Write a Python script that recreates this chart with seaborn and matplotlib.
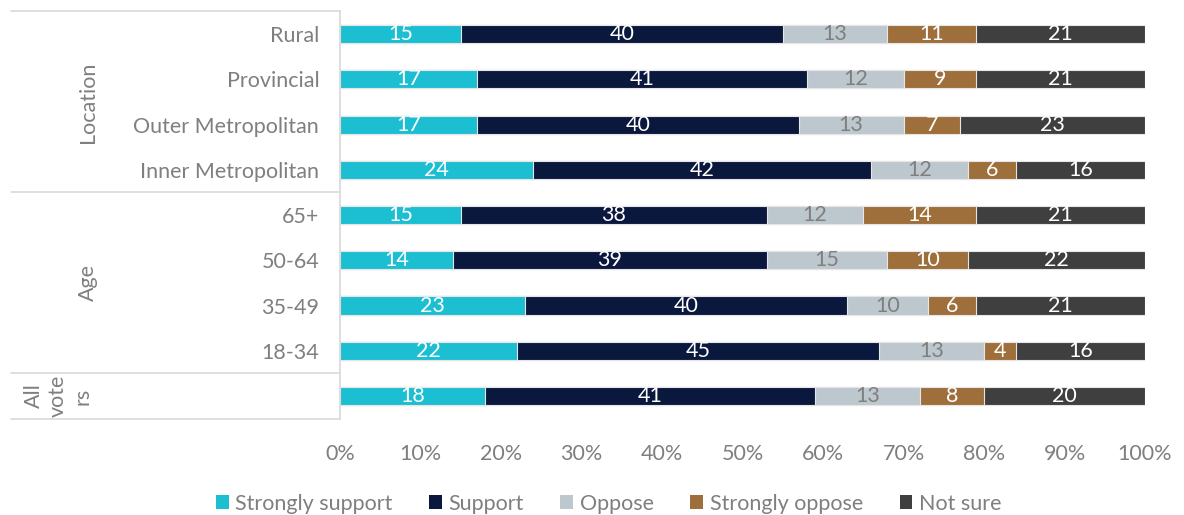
import numpy as np
import pandas as pd
import matplotlib
matplotlib.use('Agg')
import matplotlib.pyplot as plt
import matplotlib.transforms as mtransforms
from matplotlib.patches import Patch
import seaborn as sns

categories = ['Rural', 'Provincial', 'Outer Metropolitan', 'Inner Metropolitan',
              '65+', '50-64', '35-49', '18-34', 'All voters']
series = ['Strongly support', 'Support', 'Oppose', 'Strongly oppose', 'Not sure']
strongly_support = [15, 17, 17, 24, 15, 14, 23, 22, 18]
support = [40, 41, 40, 42, 38, 39, 40, 45, 41]
oppose = [13, 12, 13, 12, 12, 15, 10, 13, 13]
strongly_oppose = [11, 9, 7, 6, 14, 10, 6, 4, 8]
not_sure = [21, 21, 23, 16, 21, 22, 21, 16, 20]
groups = ['Location', 'Age', 'All\nvote\nrs']
group_sizes = [4, 4, 1]
x_ticks = [0, 10, 20, 30, 40, 50, 60, 70, 80, 90, 100]

colors = ['#1cbfd2', '#0b183d', '#bdc8ce', '#9e6f3a', '#3f3f3f']
text_colors = ['white', 'white', '#7f7f7f', 'white', 'white']
grey = '#7f7f7f'
fs = 15.5

sns.set_theme(style='white')
plt.rcParams['font.family'] = ['Lato', 'DejaVu Sans']

df = pd.DataFrame({'category': categories,
                   series[0]: strongly_support, series[1]: support,
                   series[2]: oppose, series[3]: strongly_oppose, series[4]: not_sure})
cum = df[series].cumsum(axis=1)

fig = plt.figure(figsize=(11.84, 5.15), dpi=100)
ax = fig.add_axes([0.2872, 0.1872, 0.6799, 0.7905])

# stacked bars: draw cumulative totals from the back forward
for k in range(len(series) - 1, -1, -1):
    sns.barplot(x=cum[series[k]], y=df['category'], color=colors[k], width=0.4,
                edgecolor='#e6e6e6', linewidth=0.8, orient='h', ax=ax, saturation=1)

for k, s in enumerate(series):
    for i in range(len(categories)):
        v = df[s].iloc[i]
        ax.text(cum[s].iloc[i] - v / 2, i, str(v), ha='center', va='center',
                color=text_colors[k], fontsize=fs)

ax.set_xlim(0, 100)
ax.set_ylim(len(categories) - 0.5, -0.5)
ax.set_xticks(x_ticks)
ax.set_xticklabels([f'{t}%' for t in x_ticks], color=grey, fontsize=fs)
ax.set_yticks(range(len(categories)))
ax.set_yticklabels(['' if c == 'All voters' else c for c in categories], color=grey, fontsize=fs)
ax.tick_params(axis='x', pad=18, length=0)
ax.tick_params(axis='y', pad=15, length=0)
ax.set_xlabel('')
ax.set_ylabel('')
for sp in ['top', 'right', 'bottom']:
    ax.spines[sp].set_visible(False)
ax.spines['left'].set_color('#d9d9d9')

# group separators and labels on the left
trans = mtransforms.blended_transform_factory(fig.transFigure, ax.transData)
x0, x1 = 11 / 1184, 340 / 1184
pos = -0.5
ax.plot([x0, x1], [pos, pos], transform=trans, color='#d9d9d9', lw=1.2, clip_on=False)
for g, n in zip(groups, group_sizes):
    mid = pos + n / 2
    if n > 1:
        ax.text(88 / 1184, mid, g, transform=trans, rotation=90, ha='center', va='center',
                color=grey, fontsize=fs)
    else:
        ax.text(58 / 1184, mid, g, transform=trans, rotation=90, ha='center', va='center',
                color=grey, fontsize=fs, linespacing=1.25, multialignment='center')
    pos += n
    ax.plot([x0, x1], [pos, pos], transform=trans, color='#d9d9d9', lw=1.2, clip_on=False)

handles = [Patch(facecolor=c, edgecolor='none') for c in colors]
leg = fig.legend(handles, series, loc='lower center', bbox_to_anchor=(0.514, -0.035), ncol=5,
                 frameon=False, fontsize=fs, handlelength=0.6, handleheight=0.6,
                 handletextpad=0.3, columnspacing=1.7)
for t in leg.get_texts():
    t.set_color(grey)

fig.savefig('out.png', dpi=100)
